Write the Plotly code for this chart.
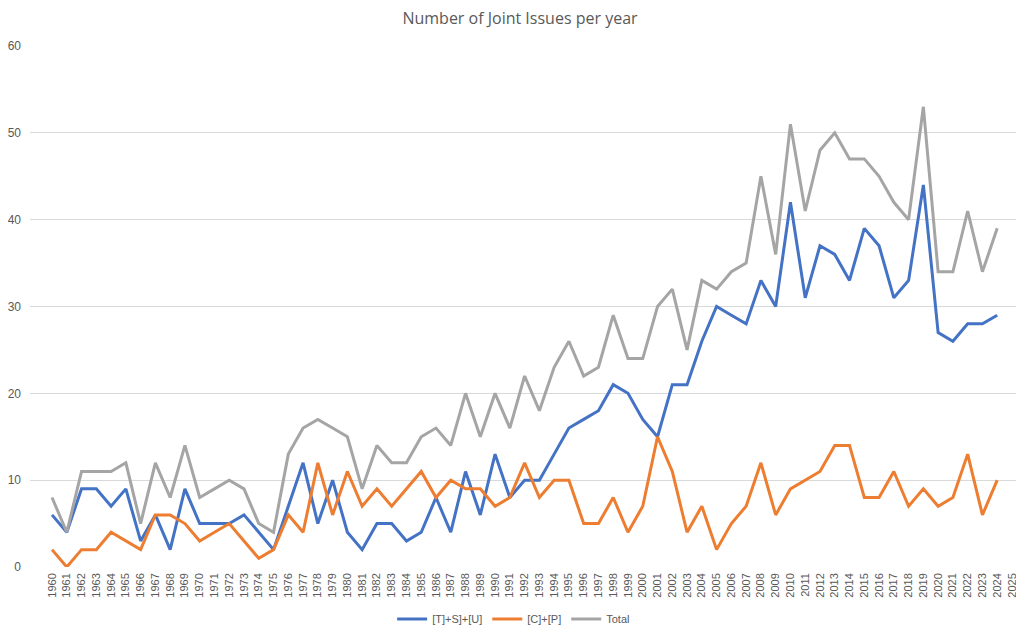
import plotly.graph_objects as go

years = list(range(1960, 2025))
tick_years = list(range(1960, 2026))

tsu = [6, 4, 9, 9, 7, 9, 3, 6, 2, 9, 5, 5, 5, 6, 4, 2, 7, 12, 5, 10,
       4, 2, 5, 5, 3, 4, 8, 4, 11, 6, 13, 8, 10, 10, 13, 16, 17, 18, 21, 20,
       17, 15, 21, 21, 26, 30, 29, 28, 33, 30, 42, 31, 37, 36, 33, 39, 37, 31, 33, 44,
       27, 26, 28, 28, 29]
cp = [2, 0, 2, 2, 4, 3, 2, 6, 6, 5, 3, 4, 5, 3, 1, 2, 6, 4, 12, 6,
      11, 7, 9, 7, 9, 11, 8, 10, 9, 9, 7, 8, 12, 8, 10, 10, 5, 5, 8, 4,
      7, 15, 11, 4, 7, 2, 5, 7, 12, 6, 9, 10, 11, 14, 14, 8, 8, 11, 7, 9,
      7, 8, 13, 6, 10]
total = [8, 4, 11, 11, 11, 12, 5, 12, 8, 14, 8, 9, 10, 9, 5, 4, 13, 16, 17, 16,
         15, 9, 14, 12, 12, 15, 16, 14, 20, 15, 20, 16, 22, 18, 23, 26, 22, 23, 29, 24,
         24, 30, 32, 25, 33, 32, 34, 35, 45, 36, 51, 41, 48, 50, 47, 47, 45, 42, 40, 53,
         34, 34, 41, 34, 39]

names = ["[T]+S]+[U]", "[C]+[P]", "Total"]
colors = ["#4472C4", "#ED7D31", "#A5A5A5"]

fig = go.Figure()
for name, vals, col in zip(names, [tsu, cp, total], colors):
    fig.add_trace(go.Scatter(x=years, y=vals, mode="lines", name=name,
                             line=dict(color=col, width=3)))

font_family = "Liberation Sans, Arial, sans-serif"
fig.update_layout(
    width=1024, height=633,
    margin=dict(l=22, r=15, t=38, b=74, autoexpand=False),
    paper_bgcolor="white", plot_bgcolor="white",
    title=dict(text="Number of Joint Issues per year", x=0.5, xanchor="center",
               y=0.984, yanchor="middle",
               font=dict(family="Open Sans, sans-serif", size=16, color="#595959")),
    font=dict(family=font_family, color="#595959", size=11),
    showlegend=True,
    legend=dict(orientation="h", x=0.49, xanchor="center", y=-0.1, yanchor="middle",
                font=dict(size=11, color="#595959"), traceorder="normal"),
    xaxis=dict(range=[1958.51, 2025.34], tickmode="array", tickvals=tick_years,
               ticktext=[str(y) for y in tick_years], tickangle=-90,
               showgrid=False, zeroline=False, showline=False, automargin=False,
               ticklabelstandoff=3,
               tickfont=dict(size=11, color="#595959")),
    yaxis=dict(range=[0, 60], tickmode="array", tickvals=[0, 10, 20, 30, 40, 50, 60],
               showgrid=True, gridcolor="#D9D9D9", gridwidth=1, zeroline=False,
               showline=False, ticks="", ticklabelstandoff=8, automargin=False,
               tickfont=dict(size=12, color="#595959")),
)

fig.write_html("out.html")
